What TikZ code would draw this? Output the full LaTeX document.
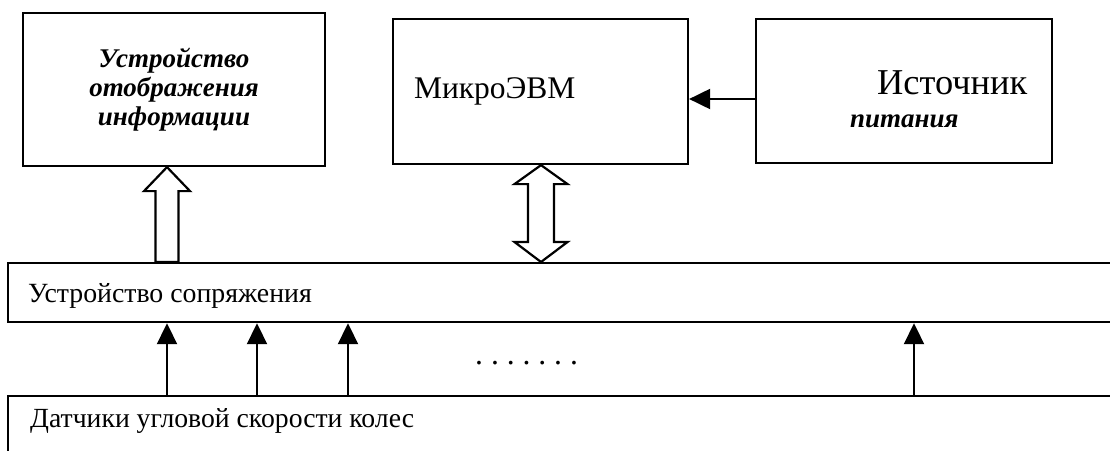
\documentclass[tikz,border=0pt]{standalone}
\usepackage{fontspec}
\setmainfont{Liberation Serif}
\usetikzlibrary{arrows.meta,calc}
\begin{document}
\begin{tikzpicture}[x=1pt,y=-1pt,
  box/.style={draw, line width=2.2pt, inner sep=0pt},
  hollow/.style={draw, line width=2.2pt, fill=white, line join=miter},
  sig/.style={line width=2pt, -{Triangle[length=21pt,width=20pt]}},
  txt/.style={inner sep=0pt, anchor=base west},
  bi/.style={font=\fontsize{27}{29}\selectfont\bfseries\itshape}
  ]
\useasboundingbox (0,0) rectangle (1110,450);
\fill[white] (0,0) rectangle (1110,450);
\clip (0,0) rectangle (1110,450);
% top boxes
\node[box, bi, minimum width=302, minimum height=153, align=center] (disp) at (174,89.5) {Устройство\\отображения\\информации};
\node[box, minimum width=295, minimum height=145, text width=253, inner xsep=21, align=left, font=\fontsize{31.5}{33}\selectfont] (evm) at (540.5,91.5) {МикроЭВМ};
\node[box, minimum width=296, minimum height=144] (pwr) at (904,91) {};
\node[txt, font=\fontsize{36.4}{38}\selectfont] (pwr1) at (877,94) {Источник};
\node[txt, bi] (pwr2) at (850,127) {питания};
% wide boxes
\node[box, minimum width=1140, minimum height=59, anchor=north west] (ifc) at (7,262) {};
\node[txt, font=\fontsize{27.8}{30}\selectfont] (ifct) at (28,302) {Устройство сопряжения};
\node[box, minimum width=1140, minimum height=100, anchor=north west] (sens) at (7,395) {};
\node[txt, font=\fontsize{27.7}{30}\selectfont] (senst) at (30,427) {Датчики угловой скорости колес};
\node[txt, font=\fontsize{31.6}{33}\selectfont] (dots) at (475,364) {.\kern7.9pt.\kern7.9pt.\kern7.9pt.\kern7.9pt.\kern7.9pt.\kern7.9pt.};
% power -> evm
\coordinate (ay) at (0,99);
\draw[sig] (ay -| pwr.west) -- (ay -| evm.east);
% sensor arrows
\foreach \n/\x in {1/167,2/257,3/348,4/914}{
  \coordinate (s\n) at (\x,0);
  \draw[sig] (s\n |- sens.north) -- (s\n |- ifc.south);
}
% hollow arrow interface -> display
\coordinate (h1) at (167,0);
\coordinate (h1t) at (h1 |- disp.south);
\coordinate (h1b) at (h1 |- ifc.north);
\draw[hollow] (h1t) -- ($(h1t)+(23,24)$) -- ($(h1t)+(11.5,24)$) -- ($(h1b)+(11.5,0)$)
  -- ($(h1b)+(-11.5,0)$) -- ($(h1t)+(-11.5,24)$) -- ($(h1t)+(-23,24)$) -- cycle;
% double hollow arrow evm <-> interface
\coordinate (h2) at (541,0);
\coordinate (h2t) at (h2 |- evm.south);
\coordinate (h2b) at (h2 |- ifc.north);
\draw[hollow] (h2t) -- ($(h2t)+(26.5,19)$) -- ($(h2t)+(13,19)$) -- ($(h2b)+(13,-20)$)
  -- ($(h2b)+(26.5,-20)$) -- (h2b) -- ($(h2b)+(-26.5,-20)$) -- ($(h2b)+(-13,-20)$)
  -- ($(h2t)+(-13,19)$) -- ($(h2t)+(-26.5,19)$) -- cycle;
\end{tikzpicture}
\end{document}
